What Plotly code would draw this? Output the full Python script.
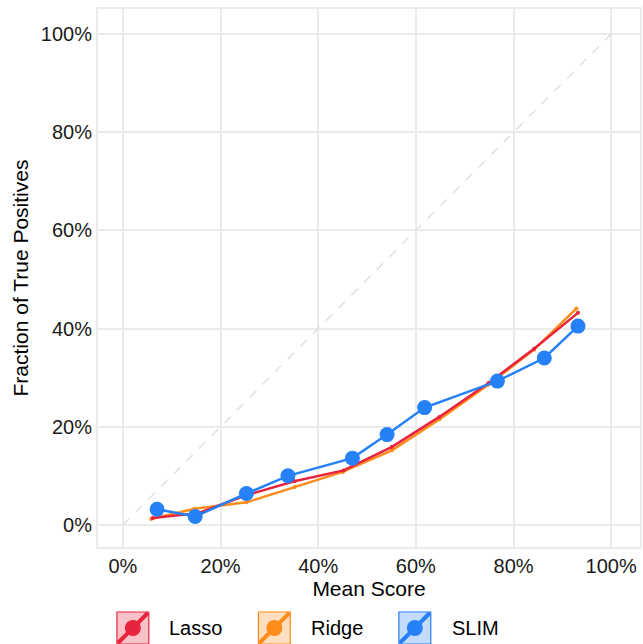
import plotly.graph_objects as go

# ---- data ----
series_names = ["Lasso", "Ridge", "SLIM"]
lasso_x = [0.061, 0.154, 0.251, 0.351, 0.452, 0.551, 0.648, 0.749, 0.842, 0.932]
lasso_y = [0.014, 0.024, 0.060, 0.089, 0.111, 0.159, 0.220, 0.289, 0.359, 0.432]
ridge_x = [0.058, 0.147, 0.253, 0.352, 0.450, 0.551, 0.648, 0.749, 0.842, 0.929]
ridge_y = [0.012, 0.033, 0.046, 0.077, 0.108, 0.152, 0.215, 0.286, 0.357, 0.441]
slim_x = [0.070, 0.148, 0.253, 0.338, 0.470, 0.541, 0.618, 0.767, 0.863, 0.932]
slim_y = [0.032, 0.017, 0.064, 0.100, 0.136, 0.184, 0.239, 0.293, 0.340, 0.405]
diag = [0.0, 1.0]
tick_vals = [0, 0.2, 0.4, 0.6, 0.8, 1.0]
tick_text = ["0%", "20%", "40%", "60%", "80%", "100%"]

colors = {"Lasso": "#E8233E", "Ridge": "#FF8C1A", "SLIM": "#2680F7"}
fills = {"Lasso": "rgba(232,35,62,0.28)", "Ridge": "rgba(255,140,26,0.28)", "SLIM": "rgba(38,128,247,0.28)"}

FONT = "Liberation Sans, Arial, sans-serif"
W, H = 643, 644
L, R, T, B = 98, 1, 9, 97

fig = go.Figure()
fig.add_trace(go.Scatter(x=diag, y=diag, mode="lines",
                         line=dict(color="#dcdcdc", width=1.3, dash="dash"),
                         showlegend=False, hoverinfo="skip"))
fig.add_trace(go.Scatter(x=ridge_x, y=ridge_y, mode="lines+markers", name="Ridge",
                         line=dict(color=colors["Ridge"], width=2.5),
                         marker=dict(size=4, color=colors["Ridge"]), showlegend=False))
fig.add_trace(go.Scatter(x=lasso_x, y=lasso_y, mode="lines+markers", name="Lasso",
                         line=dict(color=colors["Lasso"], width=2.5),
                         marker=dict(size=4, color=colors["Lasso"]), showlegend=False))
fig.add_trace(go.Scatter(x=slim_x, y=slim_y, mode="lines+markers", name="SLIM",
                         line=dict(color=colors["SLIM"], width=2.5),
                         marker=dict(size=15, color=colors["SLIM"]), showlegend=False))

axis_common = dict(
    tickvals=tick_vals, ticktext=tick_text,
    showgrid=True, gridcolor="#ebebeb", gridwidth=2,
    zeroline=False,
    showline=True, mirror=True, linecolor="#ebebeb", linewidth=2,
    ticks="",
    tickfont=dict(family=FONT, size=20, color="#1a1a1a"),
    title_font=dict(family=FONT, size=21, color="#000000"),
)

fig.update_layout(
    width=W, height=H,
    margin=dict(l=L, r=R, t=T, b=B),
    paper_bgcolor="white", plot_bgcolor="white",
    xaxis=dict(range=[-0.051, 1.059], title=dict(text="Mean Score", standoff=0), **axis_common),
    yaxis=dict(range=[-0.045, 1.051], title=dict(text="Fraction of True Positives", standoff=6), **axis_common),
    showlegend=False,
)

# ---- manual legend (ggplot-style keys), positions given in screen pixels ----
pw = W - L - R
ph = H - T - B


def px(x):
    return (x - L) / pw


def py(y):
    return (H - B - y) / ph


shapes = []
annotations = []
box_left = [117, 259, 400]
text_left = [167, 310, 451]
top, bot = 612, 644
size = 32
for name, bx, tx in zip(series_names, box_left, text_left):
    c = colors[name]
    shapes.append(dict(type="rect", xref="paper", yref="paper",
                       x0=px(bx), x1=px(bx + size), y0=py(bot), y1=py(top),
                       fillcolor=fills[name], line=dict(color=c, width=1.2), layer="above"))
    shapes.append(dict(type="line", xref="paper", yref="paper",
                       x0=px(bx + 1), y0=py(bot - 1), x1=px(bx + size - 1), y1=py(top + 1),
                       line=dict(color=c, width=4), layer="above"))
    cx, cy, r = bx + size / 2, (top + bot) / 2, 8
    shapes.append(dict(type="circle", xref="paper", yref="paper",
                       x0=px(cx - r), x1=px(cx + r), y0=py(cy + r), y1=py(cy - r),
                       fillcolor=c, line=dict(color=c, width=0), layer="above"))
    annotations.append(dict(text=name, xref="paper", yref="paper",
                            x=px(tx), y=py(cy), xanchor="left", yanchor="middle",
                            showarrow=False, font=dict(family=FONT, size=20, color="#000000")))

fig.update_layout(shapes=shapes, annotations=annotations)

fig.write_html(
    "out.html",
    config={"displayModeBar": False},
    post_script="document.body.style.margin='0';document.body.style.overflow='hidden';",
)
